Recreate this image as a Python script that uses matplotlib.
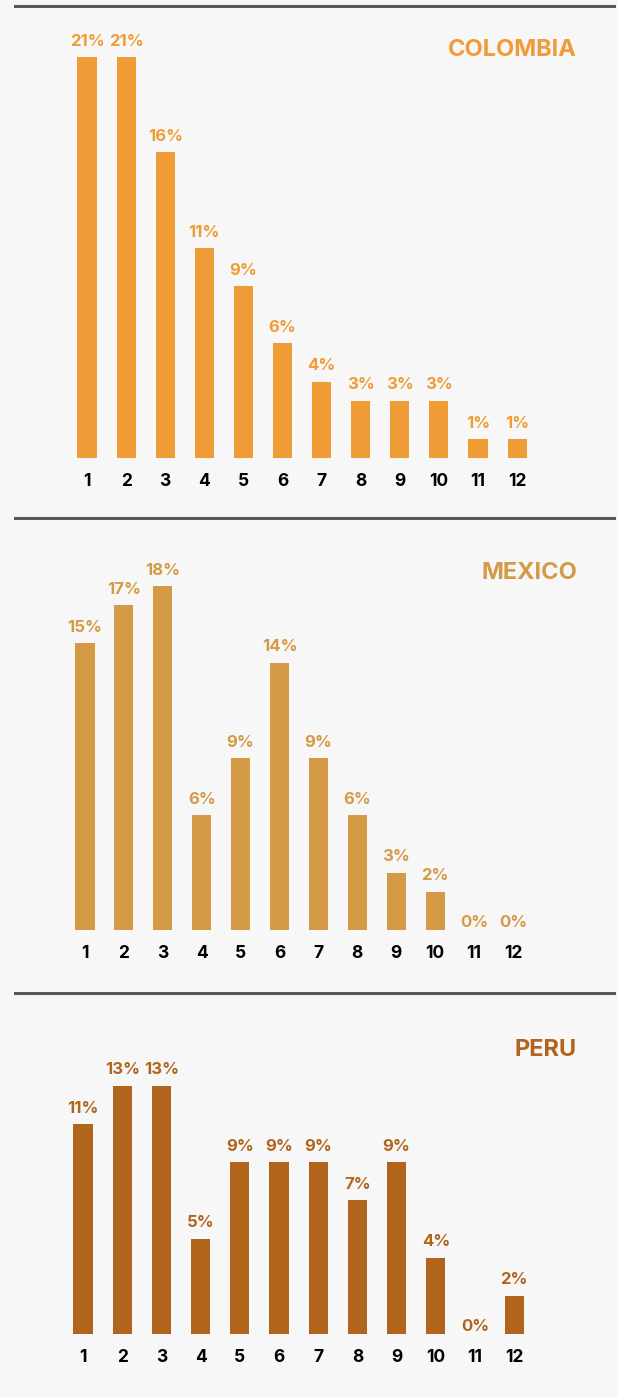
import matplotlib.pyplot as plt
from matplotlib.lines import Line2D

plt.rcParams['font.family'] = ['Inter', 'DejaVu Sans']

months = ['1', '2', '3', '4', '5', '6', '7', '8', '9', '10', '11', '12']
colombia = [21, 21, 16, 11, 9, 6, 4, 3, 3, 3, 1, 1]
mexico = [15, 17, 18, 6, 9, 14, 9, 6, 3, 2, 0, 0]
peru = [11, 13, 13, 5, 9, 9, 9, 7, 9, 4, 0, 2]

W, H = 618, 1397
BG = '#f7f7f7'
PX_PER_PCT = 19.1

# (name, values, colour, rule y, baseline y, first bar x, bar spacing, title y) in pixels
panels = [
    ('COLOMBIA', colombia, '#ef9c37', 6, 458, 87, 39.1, 50),
    ('MEXICO', mexico, '#d49a45', 518, 930, 85, 38.9, 573),
    ('PERU', peru, '#b0641c', 993, 1334, 83, 39.2, 1050),
]

fig = plt.figure(figsize=(W / 100, H / 100), dpi=100, facecolor=BG)

for name, vals, color, top, base, x0, step, ty in panels:
    ax = fig.add_axes([0, 1 - base / H, 1, (base - top) / H])
    ax.set_facecolor('none')
    pos = list(range(1, 13))
    ax.bar(pos, vals, width=0.49, color=color)
    ax.set_xlim(1 - x0 / step, 1 + (W - x0) / step)
    ax.set_ylim(0, (base - top) / PX_PER_PCT)
    for x, v in zip(pos, vals):
        off = 6 if v > 0 else 0
        ax.annotate(f'{v}%', (x, v), xytext=(0, off), textcoords='offset points',
                    ha='center', va='bottom', fontsize=12, fontweight='bold',
                    color=color)
    ax.set_xticks(pos)
    ax.set_xticklabels(months, fontsize=12.5, fontweight='bold', color='black')
    ax.tick_params(axis='x', length=0, pad=11)
    ax.set_yticks([])
    for s in ax.spines.values():
        s.set_visible(False)
    fig.text(577 / W, 1 - ty / H, name, ha='right', va='center',
             fontsize=17, fontweight='bold', color=color)
    fig.add_artist(Line2D([15 / W, 614 / W], [1 - top / H, 1 - top / H],
                          color='#565b5a', linewidth=2.2))

fig.savefig('out.png', dpi=100, facecolor=BG)
